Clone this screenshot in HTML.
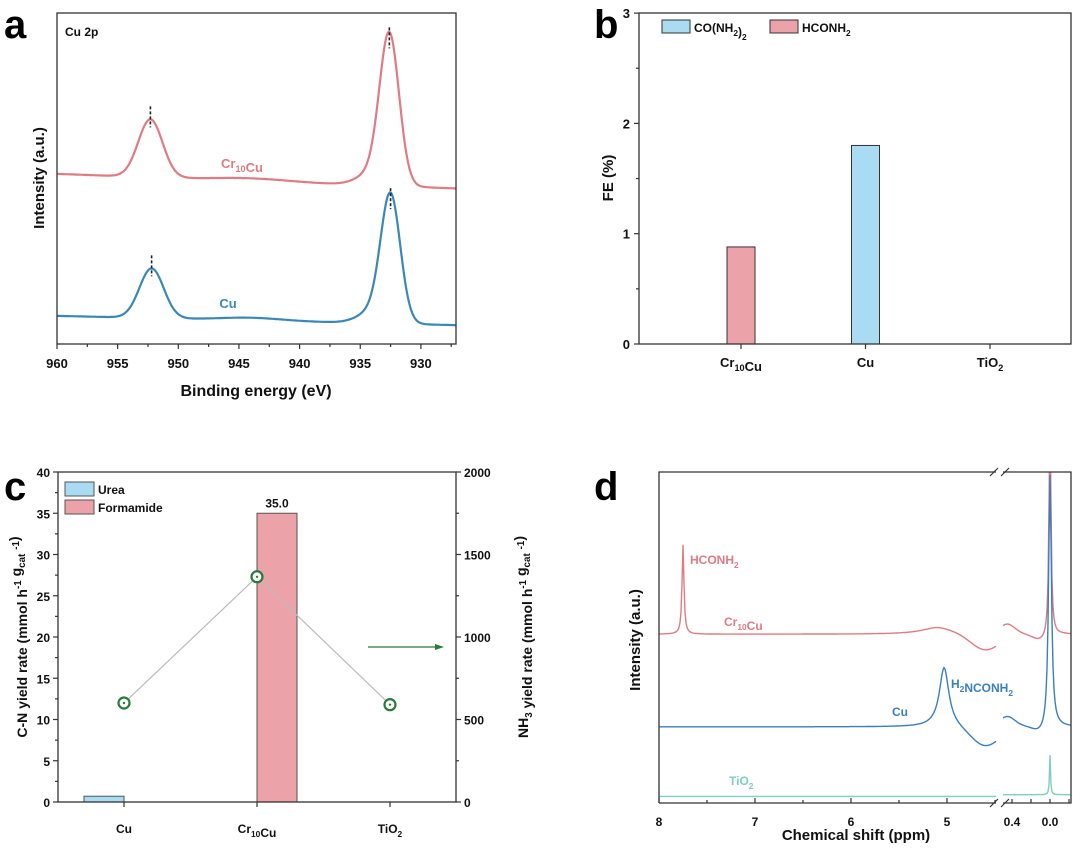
<!DOCTYPE html>
<html><head><meta charset="utf-8">
<style>
html,body{margin:0;padding:0;background:#fff;}
svg{display:block;font-family:"Liberation Sans",Arial,sans-serif;font-weight:bold;}
</style></head>
<body>
<svg id="fig" width="1080" height="849" viewBox="0 0 1080 849" xmlns="http://www.w3.org/2000/svg">
<g id="pa"></g>
<g id="pb"></g>
<g id="pc"></g>
<g id="pd"></g>
</svg>
<script>
// ---------- data ----------
// Panel a: XPS Cu 2p peaks [center eV, height a.u., sigma eV]
const xpsSamples = ["Cr10Cu", "Cu"];
const xpsBaseLeft = [51.4, 8.5];
const xpsBaseRight = [47.0, 5.7];
const xpsPeaksCr = [[952.3, 17.5, 1.0], [932.6, 44, 0.8], [933.8, 4, 1.3], [944, 0.8, 3]];
const xpsPeaksCu = [[952.2, 15, 1.0], [932.5, 37, 0.8], [933.7, 4, 1.3], [944, 0.8, 2.5]];
const xpsTicks = [960, 955, 950, 945, 940, 935, 930];
// Panel b: FE
const feCats = ["Cr10Cu", "Cu", "TiO2"];
const feUrea = [0, 1.8, 0];
const feFormamide = [0.88, 0, 0];
const feTicks = [0, 1, 2, 3];
// Panel c
const yrCats = ["Cu", "Cr10Cu", "TiO2"];
const yrUrea = [0.7, 0, 0];
const yrFormamide = [0, 35.0, 0];
const yrNH3 = [600, 1365, 590];
const yrLeftTicks = [0, 5, 10, 15, 20, 25, 30, 35, 40];
const yrRightTicks = [0, 500, 1000, 1500, 2000];
// Panel d: NMR peaks [ppm, height, width]
const nmrBase = [51, 23, 2];
const nmrCrPeaks = [[7.75, 27, 0.012], [5.1, 2, 0.2], [0.0, 70, 0.012]];
const nmrCuPeaks = [[5.03, 18, 0.06], [0.0, 77, 0.018]];
const nmrTiPeaks = [[0.0, 12, 0.006]];

const NS = "http://www.w3.org/2000/svg";
function mk(parent, tag, attrs) {
  const e = document.createElementNS(NS, tag);
  for (const k in attrs) e.setAttribute(k, attrs[k]);
  parent.appendChild(e);
  return e;
}
function txt(parent, x, y, s, size, fill, anchor, extra) {
  const t = mk(parent, "text", Object.assign({x: x, y: y, "font-size": size, fill: fill || "#111", "text-anchor": anchor || "middle"}, extra || {}));
  t.innerHTML = s;
  return t;
}
function sub(s){return '<tspan dy="4" font-size="0.7em">'+s+'</tspan><tspan dy="-4"></tspan>';}
function sup(s){return '<tspan dy="-6" font-size="0.7em">'+s+'</tspan><tspan dy="6"></tspan>';}
function catLabel(c){
  if(c==="Cr10Cu") return "Cr"+sub("10")+"Cu";
  if(c==="TiO2") return "TiO"+sub("2");
  return c;
}
function gauss(x,c,h,s){return h*Math.exp(-0.5*((x-c)/s)*((x-c)/s));}
function lor(x,c,h,w){return h/(1+((x-c)/w)*((x-c)/w));}

// ---------- Panel a ----------
(function(){
  const g = document.getElementById("pa");
  const L=57,R=456,T=13,B=344;
  const xS = v => L + (960 - v) * 12.13;
  const yS = v => B - v * 3.31;
  let e;
  e = txt(g, 4, 38, "a", 40, "#000", "start");
  
  
  const peaksAll = [xpsPeaksCr, xpsPeaksCu];
  const colors = ["#e07b84", "#3a88b8"];
  for (let s=0;s<2;s++){
    let d="";
    for (let px=L; px<=R; px+=1){
      const v = 960 - (px-L)/12.13;
      const f = (960-v)/(960-927.1);
      let y = xpsBaseLeft[s] + (xpsBaseRight[s]-xpsBaseLeft[s])*f;
      for (const p of peaksAll[s]) y += gauss(v,p[0],p[1],p[2]);
      d += (px===L?"M":"L")+px+","+yS(y).toFixed(1);
    }
    e = mk(g,"path",{d:d,fill:"none",stroke:colors[s],"stroke-width":2.2});
    
    
    for (const p of [peaksAll[s][0], peaksAll[s][1]]){
      const pk = yS(xpsBaseLeft[s] + p[1] + (xpsBaseRight[s]-xpsBaseLeft[s])*((960-p[0])/32.9));
      e = mk(g,"line",{x1:xS(p[0]),x2:xS(p[0]),y1:pk-13,y2:pk+8,stroke:"#222","stroke-width":1.6,"stroke-dasharray":"3,2"});
      
      
    }
  }
  e = txt(g, 242, 168, "Cr"+sub("10")+"Cu", 13, "#e07b84");
  
  
  e = txt(g, 228, 308, "Cu", 13, "#3a88b8");
  
  
  e = txt(g, 65, 36, "Cu 2p", 12, "#111", "start");
  
  
  e = mk(g,"rect",{x:L,y:T,width:R-L,height:B-T,fill:"none",stroke:"#333","stroke-width":1.3});
  
  
  for (let v=960; v>927; v-=2.5){
    const major = Math.abs(v%5)<0.01;
    e = mk(g,"line",{x1:xS(v),x2:xS(v),y1:B,y2:B+(major?5:3),stroke:"#333","stroke-width":1.2});
    
    
  }
  for (const v of xpsTicks){
    e = txt(g, xS(v), 368, String(v), 13, "#111");
    
    
  }
  e = txt(g, 256, 396, "Binding energy (eV)", 16, "#111");
  
  
  e = txt(g, 0, 0, "Intensity (a.u.)", 15, "#111", "middle", {transform:"translate(44,178) rotate(-90)"});
  
  
})();

// ---------- Panel b ----------
(function(){
  const g = document.getElementById("pb");
  const L=639,R=1071,T=13,B=344;
  const yS = v => B - v*110.3;
  const xC = i => 741 + i*124.5;
  let e;
  e = txt(g, 594, 38, "b", 40, "#000", "start");
  
  
  for (let i=0;i<feCats.length;i++){
    if (feUrea[i]>0){
      e = mk(g,"rect",{x:xC(i)-14,y:yS(feUrea[i]),width:28,height:B-yS(feUrea[i]),fill:"#a9dcf3",stroke:"#333","stroke-width":1});
      
      
    }
    if (feFormamide[i]>0){
      e = mk(g,"rect",{x:xC(i)-14,y:yS(feFormamide[i]),width:28,height:B-yS(feFormamide[i]),fill:"#eca2a9",stroke:"#333","stroke-width":1});
      
      
    }
    e = mk(g,"line",{x1:xC(i),x2:xC(i),y1:B,y2:B+5,stroke:"#333","stroke-width":1.2});
    
    
    e = txt(g, xC(i), 367, catLabel(feCats[i]), 13, "#111");
    
    
  }
  e = mk(g,"rect",{x:L,y:T,width:R-L,height:B-T,fill:"none",stroke:"#333","stroke-width":1.3});
  
  
  for (let v=0; v<=3.001; v+=0.5){
    const major = Math.abs(v-Math.round(v))<0.01;
    e = mk(g,"line",{x1:L-(major?5:3),x2:L,y1:yS(v),y2:yS(v),stroke:"#333","stroke-width":1.2});
    
    
  }
  for (const v of feTicks){
    e = txt(g, L-9, yS(v)+5, String(v), 13, "#111", "end");
    
    
  }
  e = txt(g, 0, 0, "FE (%)", 15, "#111", "middle", {transform:"translate(613,178) rotate(-90)"});
  
  
  e = mk(g,"rect",{x:662,y:20,width:28,height:13,fill:"#a9dcf3",stroke:"#333","stroke-width":1});
  
  
  e = txt(g, 694, 32, "CO(NH"+sub("2")+")"+sub("2"), 12, "#111", "start");
  
  
  e = mk(g,"rect",{x:770,y:20,width:28,height:13,fill:"#eca2a9",stroke:"#333","stroke-width":1});
  
  
  e = txt(g, 802, 32, "HCONH"+sub("2"), 12, "#111", "start");
  
  
})();

// ---------- Panel c ----------
(function(){
  const g = document.getElementById("pc");
  const L=58,R=456,T=472,B=802;
  const yL = v => B - v*(B-T)/40;
  const yR = v => B - v*(B-T)/2000;
  const xC = i => 124 + i*133;
  let e;
  e = txt(g, 4, 500, "c", 40, "#000", "start");
  
  
  for (let i=0;i<yrCats.length;i++){
    if (yrUrea[i]>0){
      e = mk(g,"rect",{x:xC(i)-40,y:yL(yrUrea[i]),width:40,height:B-yL(yrUrea[i]),fill:"#a9dcf3",stroke:"#555","stroke-width":1});
      
      
    }
    if (yrFormamide[i]>0){
      e = mk(g,"rect",{x:xC(i),y:yL(yrFormamide[i]),width:40,height:B-yL(yrFormamide[i]),fill:"#eca2a9",stroke:"#555","stroke-width":1});
      
      
      e = txt(g, xC(i)+20, yL(yrFormamide[i])-6, yrFormamide[i].toFixed(1), 12, "#111");
      
      
    }
    e = mk(g,"line",{x1:xC(i),x2:xC(i),y1:B,y2:B+5,stroke:"#333","stroke-width":1.2});
    
    
    e = txt(g, xC(i), 833, catLabel(yrCats[i]), 12, "#111");
    
    
  }
  let d="";
  for (let i=0;i<yrNH3.length;i++) d += (i?"L":"M")+xC(i)+","+yR(yrNH3[i]);
  e = mk(g,"path",{d:d,fill:"none",stroke:"#bbb","stroke-width":1.2});
  
  
  for (let i=0;i<yrNH3.length;i++){
    e = mk(g,"circle",{cx:xC(i),cy:yR(yrNH3[i]),r:5.5,fill:"#fff",stroke:"#2a7a3a","stroke-width":2.2});
    
    
    e = mk(g,"circle",{cx:xC(i),cy:yR(yrNH3[i]),r:1.2,fill:"#2a7a3a"});
    
    
  }
  e = mk(g,"line",{x1:368,x2:436,y1:647,y2:647,stroke:"#2a7a3a","stroke-width":1.3});
  
  
  e = mk(g,"path",{d:"M444,647 L435,644 L435,650 Z",fill:"#2a7a3a"});
  
  
  e = mk(g,"rect",{x:L,y:T,width:R-L,height:B-T,fill:"none",stroke:"#333","stroke-width":1.3});
  
  
  for (let v=0; v<=40; v+=2.5){
    const major = v%5===0;
    e = mk(g,"line",{x1:L-(major?5:3),x2:L,y1:yL(v),y2:yL(v),stroke:"#333","stroke-width":1.2});
    
    
  }
  for (const v of yrLeftTicks){
    e = txt(g, L-8, yL(v)+5, String(v), 12, "#111", "end");
    
    
  }
  for (let v=0; v<=2000; v+=250){
    const major = v%500===0;
    e = mk(g,"line",{x1:R,x2:R+(major?5:3),y1:yR(v),y2:yR(v),stroke:"#333","stroke-width":1.2});
    
    
  }
  for (const v of yrRightTicks){
    e = txt(g, R+8, yR(v)+5, String(v), 12, "#111", "start");
    
    
  }
  e = txt(g, 0, 0, "C-N yield rate (mmol h"+sup("-1")+" g"+sub("cat")+" "+sup("-1")+")", 14, "#111", "middle", {transform:"translate(27,637) rotate(-90)"});
  
  
  e = txt(g, 0, 0, "NH"+sub("3")+" yield rate (mmol h"+sup("-1")+" g"+sub("cat")+" "+sup("-1")+")", 14, "#111", "middle", {transform:"translate(528,637) rotate(-90)"});
  
  
  e = mk(g,"rect",{x:65,y:482,width:29,height:14,fill:"#a9dcf3",stroke:"#555","stroke-width":1});
  
  
  e = txt(g, 98, 494, "Urea", 12, "#111", "start");
  
  
  e = mk(g,"rect",{x:65,y:500,width:29,height:14,fill:"#eca2a9",stroke:"#555","stroke-width":1});
  
  
  e = txt(g, 98, 512, "Formamide", 12, "#111", "start");
  
  
})();

// ---------- Panel d ----------
(function(){
  const g = document.getElementById("pd");
  const L=659,R=1071,T=472,B=803,BX1=996,BX2=1003;
  const xLeft = v => L + (8 - v)*96;
  const xRight = v => 1050 - v*95;
  const yS = v => B - v*3.31;
  let e;
  e = mk(g,"clipPath",{id:"clipd"});
  mk(e,"rect",{x:L,y:T,width:R-L,height:B-T});
  e = txt(g, 594, 500, "d", 40, "#000", "start");
  
  
  const peaks=[nmrCrPeaks,nmrCuPeaks,nmrTiPeaks];
  const colors=["#e07b84","#3a7fc1","#7fcfc0"];
  const names=["cr10cu","cu","tio2"];
  const dips=[[4.6,5,0.15],[4.6,6,0.15],[0,0,1]];
  for (let s=0;s<3;s++){
    let d="";
    for (let px=L; px<=BX1; px+=1){
      const v = 8 - (px-L)/96;
      let y = nmrBase[s];
      for (const p of peaks[s]) y += lor(v,p[0],p[1],p[2]);
      y -= gauss(v,dips[s][0],dips[s][1],dips[s][2]);
      d += (px===L?"M":"L")+px+","+yS(y).toFixed(1);
    }
    for (let px=BX2; px<=R; px+=1){
      const v = (1050-px)/95;
      let y = nmrBase[s] + (s<2 ? gauss(v,0.45,3,0.08) - gauss(v,0.1,2,0.08) : 0.5);
      for (const p of peaks[s]) y += lor(v,p[0],p[1],p[2]);
      d += (px===BX2?"M":"L")+px+","+yS(y).toFixed(1);
    }
    e = mk(g,"path",{d:d,fill:"none",stroke:colors[s],"stroke-width":1.4,"clip-path":"url(#clipd)"});
    
    
  }
  e = mk(g,"path",{d:"M"+L+","+B+" L"+L+","+T+" L"+BX1+","+T+" M"+BX2+","+T+" L"+R+","+T+" L"+R+","+B+" L"+BX2+","+B+" M"+BX1+","+B+" L"+L+","+B,fill:"none",stroke:"#333","stroke-width":1.3});
  
  
  for (const yy of [T,B]){
    e = mk(g,"path",{d:"M"+(BX1-6)+","+(yy+4)+" L"+(BX1+2)+","+(yy-4)+" M"+(BX2-2)+","+(yy+4)+" L"+(BX2+6)+","+(yy-4),stroke:"#333","stroke-width":1.2,fill:"none"});
    
    
  }
  for (let v=8; v>=4.5; v-=0.5){
    const major = Math.abs(v-Math.round(v))<0.01;
    e = mk(g,"line",{x1:xLeft(v),x2:xLeft(v),y1:B,y2:B-(major?5:3),stroke:"#333","stroke-width":1.2});
    
    
    if (major){
      e = txt(g, xLeft(v), 826, String(v), 12, "#111");
      
      
    }
  }
  for (const v of [0.4,0.2,0.0,-0.2]){
    e = mk(g,"line",{x1:xRight(v),x2:xRight(v),y1:B,y2:B-4,stroke:"#333","stroke-width":1.2});
    
    
  }
  for (const v of [0.4,0.0]){
    e = txt(g, xRight(v), 826, v.toFixed(1), 12, "#111");
    
    
  }
  e = txt(g, 856, 840, "Chemical shift (ppm)", 15, "#111");
  
  
  e = txt(g, 0, 0, "Intensity (a.u.)", 15, "#111", "middle", {transform:"translate(640,640) rotate(-90)"});
  
  
  e = txt(g, 690, 564, "HCONH"+sub("2"), 12, "#e07b84", "start");
  
  
  e = txt(g, 724, 626, "Cr"+sub("10")+"Cu", 12, "#e07b84", "start");
  
  
  e = txt(g, 951, 688, "H"+sub("2")+"NCONH"+sub("2"), 12, "#3a7fc1", "start");
  
  
  e = txt(g, 892, 716, "Cu", 12, "#3a7fc1", "start");
  
  
  e = txt(g, 729, 785, "TiO"+sub("2"), 12, "#7fcfc0", "start");
  
  
})();
</script>
</body></html>
